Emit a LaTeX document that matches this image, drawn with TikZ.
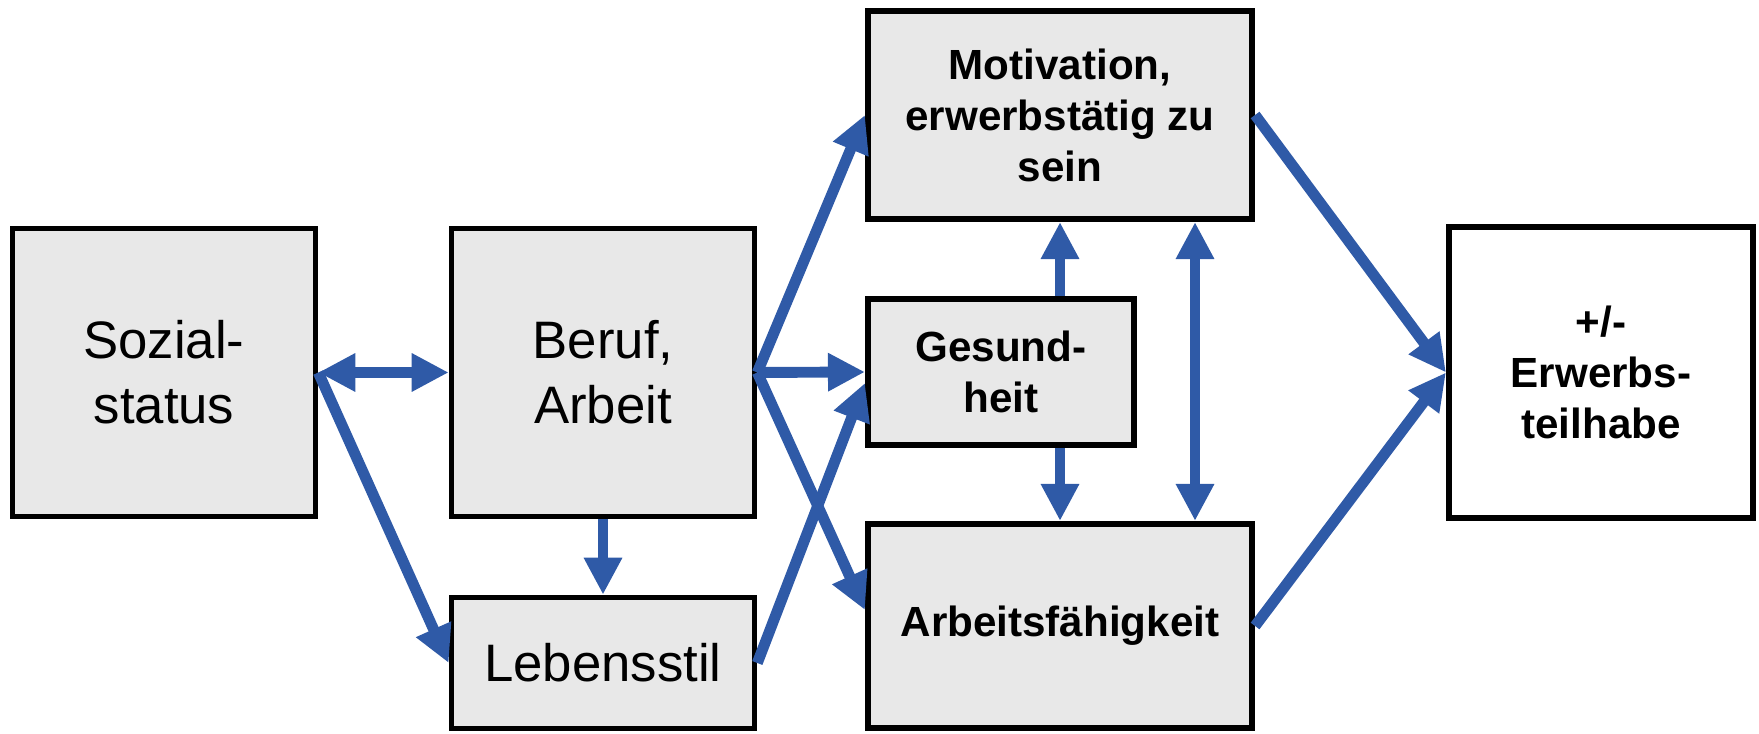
\documentclass[tikz,border=0pt]{standalone}
\usepackage{fontspec}
\setmainfont{Liberation Sans}
\usepackage{tikz}
\usetikzlibrary{arrows.meta}
\definecolor{fz_grey}{RGB}{232, 232, 232}
\definecolor{fz_blue}{RGB}{47, 90, 167}
\tikzstyle{gb}=[rectangle,fill=fz_grey,draw=black,line width=1.6pt,
  inner sep=2pt,align=center,font=\fontsize{15}{18.5}\selectfont]
\tikzstyle{gbb}=[gb,font=\fontsize{12}{14.5}\selectfont\bfseries]
\tikzstyle{wb}=[gbb,fill=white]
\tikzstyle{ba}=[draw=fz_blue,line width=3.1pt,->]
\tikzstyle{bda}=[ba,<->]

\begin{document}
\begin{tikzpicture}[>={Triangle[length=3.7mm,width=3.6mm]}]
            \useasboundingbox (0, 0) rectangle (17.59, 7.34);
            \node [style=gb, minimum width=3.03cm, minimum height=2.88cm] (0) at (1.64, 3.615) {Sozial-\\status};
            \node [style=gb, minimum width=3.03cm, minimum height=2.88cm] (1) at (6.03, 3.615) {Beruf,\\Arbeit};
            \node [style=gb, minimum width=3.03cm, minimum height=1.31cm] (2) at (6.03, 0.71) {Lebensstil};
            \node [style=gbb, minimum width=3.845cm, minimum height=2.085cm] (3) at (10.6, 6.19) {Motivation,\\erwerbstätig zu\\sein};
            \node [style=gbb, minimum width=2.665cm, minimum height=1.465cm] (4) at (10.01, 3.62) {Gesund-\\heit};
            \node [style=gbb, minimum width=3.845cm, minimum height=2.045cm] (5) at (10.6, 1.08) {Arbeitsfähigkeit};
            \node [style=wb, minimum width=3.045cm, minimum height=2.915cm] (6) at (16.01, 3.615) {+/-\\Erwerbs-\\teilhabe};
            \draw [style=bda] (0) to (1);
            \draw [style=ba] (0.east) to (2.west);
            \draw [style=ba] (1) to (2);
            \draw [style=ba] (1.east) to (3.west);
            \draw [style=ba] (1.east) to (4.west);
            \draw [style=ba] (1.east) to ([yshift=1.6mm]5.west);
            \draw [style=ba] (2.east) to ([yshift=-1.1mm]4.west);
            \draw [style=ba] (4.north -| 3.south) to (3.south);
            \draw [style=ba] (4.south -| 5.north) to (5.north);
            \draw [style=bda] ([xshift=1.35cm]3.south) to ([xshift=1.35cm]5.north);
            \draw [style=ba] (3.east) to (6.west);
            \draw [style=ba] (5.east) to (6.west);
\end{tikzpicture}
\end{document}
